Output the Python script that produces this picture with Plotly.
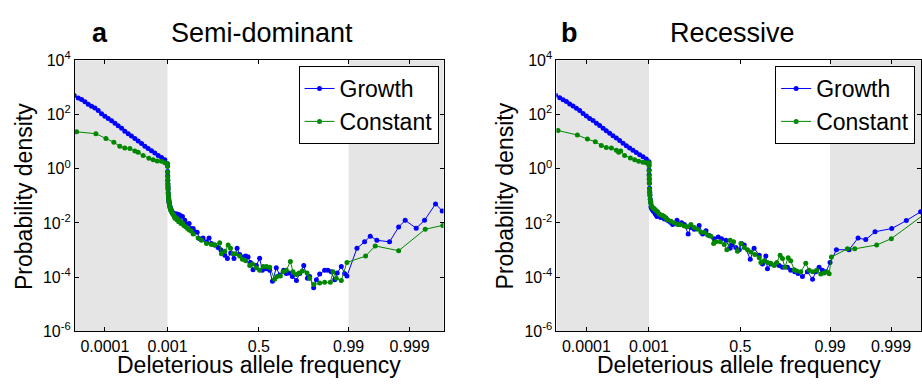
import numpy as np
import plotly.graph_objects as go

# ---------------- tick labels ----------------
x_tick_values = [0.0001, 0.001, 0.5, 0.99, 0.999]
x_tick_labels = ["0.0001", "0.001", "0.5", "0.99", "0.999"]
y_tick_values = [1e-6, 1e-4, 1e-2, 1e0, 1e2, 1e4]
y_tick_labels = ["10<sup>-6</sup>", "10<sup>-4</sup>", "10<sup>-2</sup>",
                 "10<sup>0</sup>", "10<sup>2</sup>", "10<sup>4</sup>"]

# ---------------- panel a : Semi-dominant ----------------
a_growth_freq = [
    3.24e-5, 3.76e-5, 4.25e-5, 4.80e-5, 5.42e-5, 6.12e-5, 6.93e-5, 7.83e-5, 8.85e-5, 1.0e-4,
    1.13e-4, 1.28e-4, 1.45e-4, 1.63e-4, 1.85e-4, 2.08e-4, 2.36e-4, 2.66e-4, 3.01e-4, 3.40e-4,
    3.85e-4, 4.35e-4, 4.91e-4, 5.55e-4, 6.27e-4, 7.10e-4, 8.02e-4, 9.06e-4, 1.0e-3,
    0.0012, 0.0016, 0.002, 0.0025, 0.003, 0.0035, 0.004, 0.005, 0.006, 0.007, 0.008, 0.009,
    0.010, 0.012, 0.014, 0.016, 0.018, 0.020, 0.023, 0.026, 0.030, 0.034, 0.038, 0.042,
    0.047, 0.052, 0.057, 0.062,
    0.068, 0.0827, 0.0954, 0.1045, 0.119, 0.128, 0.141, 0.150, 0.163, 0.177, 0.195, 0.214,
    0.228, 0.241, 0.259, 0.277, 0.292, 0.314, 0.328, 0.346, 0.364, 0.381, 0.395, 0.414,
    0.428, 0.441, 0.454, 0.468, 0.486, 0.504, 0.519, 0.541, 0.559, 0.574, 0.595, 0.614,
    0.635, 0.650, 0.664, 0.683, 0.705, 0.723, 0.745, 0.765, 0.777, 0.799, 0.814, 0.832,
    0.859, 0.877, 0.895, 0.914, 0.928, 0.950, 0.968, 0.981,
    0.99270, 0.99453, 0.99558, 0.99656, 0.99787, 0.99849, 0.99882, 0.999222, 0.999432,
    0.999625, 0.999709]
a_growth_dens = [
    507, 409, 357, 296, 239, 203, 173, 140, 107, 86.1,
    71.3, 59.0, 47.6, 38.5, 31.0, 24.3, 19.6, 16.3, 13.1, 10.6,
    8.53, 6.70, 5.56, 4.60, 3.81, 3.08, 2.62, 2.17, 1.53,
    1.3, 0.8, 0.55, 0.38, 0.28, 0.22, 0.18, 0.13, 0.10, 0.085, 0.072, 0.063,
    0.056, 0.047, 0.041, 0.037, 0.034, 0.031, 0.028, 0.026, 0.024, 0.022, 0.021, 0.019,
    0.022, 0.018, 0.021, 0.016,
    0.0197, 0.0173, 0.0125, 0.00881, 0.00955, 0.00621, 0.00621, 0.00475, 0.0045, 0.00263,
    0.00277, 0.00201, 0.00277, 0.00176, 0.00154, 0.00124, 0.00103, 0.00065, 0.000484,
    0.000785, 0.000484, 0.00117, 0.000686, 0.000553, 0.0006, 0.000553, 0.000351, 0.000189,
    0.000268, 0.000497, 0.000179, 0.000205, 0.000179, 0.00007, 0.000222, 0.00012, 0.000179,
    0.000137, 0.000144, 0.000105, 0.0000759, 0.000137, 0.000268, 0.0000914, 0.000105,
    0.0000409, 0.00008, 0.00013, 0.000179, 0.000179, 0.000157, 0.00008, 0.000144, 0.000247,
    0.000137, 0.00011,
    0.00117, 0.00201, 0.00326, 0.0023, 0.00201, 0.0071, 0.0125, 0.00638, 0.0125, 0.0505, 0.0279]

a_constant_freq = [
    3.53e-5, 7.18e-5, 1.04e-4, 1.39e-4, 1.73e-4, 2.08e-4, 2.51e-4, 3.01e-4, 3.40e-4, 4.08e-4,
    5.04e-4, 5.90e-4, 6.84e-4, 8.02e-4, 9.06e-4, 1.0e-3,
    0.0012, 0.0016, 0.002, 0.0025, 0.003, 0.0035, 0.004, 0.005, 0.006, 0.007, 0.008, 0.009,
    0.010, 0.012, 0.014, 0.016, 0.018, 0.020, 0.023, 0.026, 0.030, 0.034, 0.038, 0.042,
    0.047, 0.052, 0.057, 0.062, 0.068, 0.075, 0.082, 0.090, 0.100, 0.110, 0.120, 0.130,
    0.141, 0.168, 0.186, 0.214, 0.241, 0.259, 0.286, 0.295, 0.314, 0.332, 0.345, 0.359,
    0.374, 0.395, 0.410, 0.428, 0.450, 0.465, 0.486, 0.504, 0.523, 0.541, 0.559, 0.586,
    0.599, 0.617, 0.632, 0.650, 0.672, 0.686, 0.705, 0.719, 0.737, 0.763, 0.777, 0.799,
    0.832, 0.859, 0.890, 0.905, 0.923, 0.950, 0.981,
    0.99474, 0.99634, 0.99849, 0.999447, 0.999716]
a_constant_dens = [
    23.1, 19.6, 13.1, 9.51, 6.70, 5.86, 5.56, 4.48, 4.03, 3.08,
    2.42, 2.17, 1.95, 1.90, 1.66, 1.53,
    1.2, 0.75, 0.5, 0.36, 0.27, 0.21, 0.17, 0.125, 0.098, 0.082, 0.07, 0.06,
    0.054, 0.045, 0.039, 0.035, 0.031, 0.029, 0.026, 0.024, 0.021, 0.02, 0.017, 0.015,
    0.016, 0.013, 0.014, 0.011, 0.012, 0.0095, 0.010, 0.0080, 0.0072, 0.0063, 0.0055, 0.0050,
    0.00394, 0.00277, 0.0023, 0.00176, 0.00162, 0.00154, 0.00185, 0.000724, 0.000897,
    0.00154, 0.00117, 0.000724, 0.000724, 0.0006, 0.000458, 0.000401, 0.000268, 0.000306,
    0.000222, 0.000179, 0.000247, 0.000247, 0.000234, 0.0000844, 0.000105, 0.00011,
    0.000157, 0.000179, 0.00038, 0.000157, 0.000126, 0.000144, 0.00017, 0.000144,
    0.0000914, 0.0000535, 0.0000611, 0.0000646, 0.0000646, 0.000157, 0.0000914,
    0.0000759, 0.000351,
    0.0006, 0.00142, 0.000946, 0.00589, 0.00813]

# ---------------- panel b : Recessive ----------------
b_growth_freq = [
    3.24e-5, 3.76e-5, 4.25e-5, 4.80e-5, 5.42e-5, 6.12e-5, 6.93e-5, 7.83e-5, 8.85e-5, 1.0e-4,
    1.13e-4, 1.28e-4, 1.45e-4, 1.63e-4, 1.85e-4, 2.08e-4, 2.36e-4, 2.66e-4, 3.01e-4, 3.40e-4,
    3.85e-4, 4.35e-4, 4.91e-4, 5.55e-4, 6.27e-4, 7.10e-4, 8.02e-4, 9.06e-4, 1.0e-3,
    0.0012, 0.0016, 0.002, 0.0025, 0.003, 0.004, 0.005, 0.006, 0.008, 0.010, 0.0117, 0.015,
    0.020, 0.025, 0.0299, 0.035, 0.040, 0.0445, 0.050, 0.0572, 0.065, 0.0754, 0.085, 0.0936,
    0.102, 0.1117, 0.120, 0.130, 0.140, 0.154, 0.166, 0.179, 0.194, 0.215, 0.230, 0.248,
    0.275, 0.294, 0.312, 0.330, 0.357, 0.379, 0.397, 0.421, 0.444, 0.452, 0.475, 0.494,
    0.506, 0.521, 0.554, 0.575, 0.603, 0.621, 0.639, 0.648, 0.666, 0.694, 0.712, 0.730,
    0.757, 0.775, 0.797, 0.815, 0.839, 0.866, 0.894, 0.912, 0.930, 0.948, 0.966, 0.9895,
    0.99213, 0.99511, 0.99652, 0.9974, 0.99817, 0.999025, 0.999439, 0.999673, 0.99972]
b_growth_dens = [
    520, 420, 350, 300, 245, 205, 170, 142, 110, 88,
    72, 60, 48, 39, 31.5, 25, 20.2, 16.6, 13.5, 11.0,
    8.8, 7.0, 5.8, 4.8, 3.95, 3.3, 2.75, 2.3, 1.8,
    1.4, 0.9, 0.6, 0.42, 0.3, 0.19, 0.14, 0.11, 0.075, 0.058, 0.0386, 0.034,
    0.030, 0.027, 0.0258, 0.022, 0.020, 0.0173, 0.021, 0.0197, 0.016, 0.0173, 0.014, 0.0151,
    0.0125, 0.0115, 0.0105, 0.00881, 0.0095, 0.0125, 0.00881, 0.0101, 0.00881, 0.00394,
    0.00673, 0.00589, 0.00813, 0.00394, 0.00515, 0.00344, 0.00263, 0.00301, 0.00263, 0.0023,
    0.00117, 0.00154, 0.00124, 0.00103, 0.00176, 0.00154, 0.000458, 0.00117, 0.00065,
    0.000306, 0.0006, 0.000205, 0.000306, 0.000306, 0.000268, 0.000234, 0.000234, 0.000179,
    0.000157, 0.000137, 0.000105, 0.000157, 0.0000844, 0.000157, 0.000234, 0.000179,
    0.000157, 0.000351,
    0.00103, 0.00103, 0.00277, 0.00243, 0.00474, 0.00621, 0.0122, 0.0258, 0.032]

b_constant_freq = [
    3.53e-5, 7.18e-5, 1.04e-4, 1.39e-4, 1.73e-4, 2.08e-4, 2.51e-4, 3.01e-4, 3.28e-4, 3.53e-4,
    4.08e-4, 5.04e-4, 5.90e-4, 6.84e-4, 8.02e-4, 9.06e-4, 1.0e-3,
    0.0012, 0.0016, 0.002, 0.0025, 0.003, 0.004, 0.005, 0.006, 0.008, 0.010, 0.0117, 0.015,
    0.020, 0.025, 0.0299, 0.035, 0.040, 0.0481, 0.055, 0.0663, 0.075, 0.0845, 0.093, 0.1026,
    0.1208, 0.139, 0.157, 0.175, 0.194, 0.212, 0.230, 0.248, 0.266, 0.285, 0.303, 0.321,
    0.339, 0.354, 0.366, 0.390, 0.412, 0.426, 0.444, 0.463, 0.484, 0.503, 0.521, 0.539,
    0.557, 0.579, 0.603, 0.612, 0.630, 0.648, 0.666, 0.685, 0.699, 0.717, 0.730, 0.743,
    0.761, 0.775, 0.794, 0.808, 0.830, 0.857, 0.875, 0.894, 0.917, 0.939, 0.957, 0.972, 0.985,
    0.99049, 0.9948, 0.99606, 0.99828, 0.999011, 0.99972]
b_constant_dens = [
    25.7, 17.6, 12.4, 10.0, 7.26, 6.03, 5.86, 4.85, 4.03, 4.48,
    3.08, 2.48, 2.17, 1.90, 1.75, 1.66, 1.66,
    1.3, 0.85, 0.55, 0.4, 0.29, 0.18, 0.13, 0.1, 0.072, 0.06, 0.0505, 0.042,
    0.037, 0.035, 0.0337, 0.030, 0.028, 0.0258, 0.022, 0.0197, 0.019, 0.0173, 0.015, 0.0132,
    0.0115, 0.0101, 0.00881, 0.00881, 0.00771, 0.0073, 0.00881, 0.00673, 0.00589, 0.0045,
    0.0045, 0.00363, 0.00326, 0.00176, 0.00201, 0.00201, 0.00162, 0.00103, 0.0023, 0.00201,
    0.000897, 0.00176, 0.00124, 0.00103, 0.000851, 0.000686, 0.000525, 0.000351, 0.000401,
    0.000351, 0.000324, 0.000268, 0.000351, 0.00065, 0.000484, 0.000234, 0.000525, 0.000401,
    0.000189, 0.00017, 0.000157, 0.000324, 0.000179, 0.000157, 0.000179, 0.00013, 0.000144,
    0.000157, 0.000135,
    0.000555, 0.00111, 0.00111, 0.00154, 0.00263, 0.0214]


# ---------------- composite frequency scale ----------------
# left block: log10(x) for x<=0.001, middle block: linear 0.001..0.99,
# right block: -log10(1-x) for x>0.99  (axis units)
DEC_L, MID_W, DEC_R = 62.7, 181.3, 61.0


def freq_scale(x):
    x = np.asarray(x, dtype=float)
    left = (np.log10(np.clip(x, 1e-12, None)) + 3.0) * DEC_L
    mid = (x - 0.001) / 0.989 * MID_W
    right = MID_W + (-2.0 - np.log10(np.clip(1.0 - x, 1e-12, None))) * DEC_R
    return np.where(x <= 0.001, left, np.where(x <= 0.99, mid, right))


W, H = 922, 390
FONT = "Liberation Sans, Arial, Helvetica, sans-serif"
BLUE = "rgb(0,0,255)"
GREEN = "rgb(0,135,0)"
GREY = "rgb(229,229,229)"

panels = [
    dict(xa="x", ya="y", leg="legend", px0=75, px1=444, zero=167.7,
         g=(a_growth_freq, a_growth_dens), c=(a_constant_freq, a_constant_dens)),
    dict(xa="x2", ya="y2", leg="legend2", px0=557, px1=922, zero=649.7,
         g=(b_growth_freq, b_growth_dens), c=(b_constant_freq, b_constant_dens)),
]

fig = go.Figure()
for p in panels:
    for name, (fx, dy), col in (("Growth", p["g"], BLUE), ("Constant", p["c"], GREEN)):
        fig.add_trace(go.Scatter(
            x=freq_scale(fx), y=dy, mode="lines+markers", name=name,
            line=dict(color=col, width=1), marker=dict(color=col, size=5),
            xaxis=p["xa"], yaxis=p["ya"], legend=p["leg"], showlegend=True))

ytop, ybot = 52, 337.7
ydom = [1 - ybot / H, 1 - ytop / H]

axis_common = dict(showline=True, linecolor="black", linewidth=1, mirror="ticks",
                   ticks="inside", ticklen=4, tickcolor="black", tickwidth=1,
                   showgrid=False, zeroline=False,
                   tickfont=dict(family=FONT, size=16, color="black"))

layout = dict(width=W, height=H, margin=dict(l=0, r=0, t=0, b=0),
              paper_bgcolor="white", plot_bgcolor="white",
              font=dict(family=FONT, color="black"), shapes=[], annotations=[])

for i, p in enumerate(panels):
    sfx = "" if i == 0 else "2"
    lo = p["px0"] - p["zero"]
    hi = p["px1"] - p["zero"]
    layout["xaxis" + sfx] = dict(
        domain=[p["px0"] / W, p["px1"] / W], range=[lo, hi], anchor="y" + sfx,
        tickvals=list(freq_scale(x_tick_values)), ticktext=x_tick_labels, **axis_common)
    layout["yaxis" + sfx] = dict(
        domain=ydom, type="log", range=[-6, 4], anchor="x" + sfx,
        tickvals=y_tick_values, ticktext=y_tick_labels, **axis_common)
    # shaded (log-scaled) blocks
    for x0, x1 in ((lo, float(freq_scale([0.001])[0])), (float(freq_scale([0.99])[0]), hi + 10)):
        layout["shapes"].append(dict(type="rect", xref="x" + sfx, yref="y" + sfx + " domain",
                                     x0=x0, x1=x1, y0=0, y1=1, fillcolor=GREY,
                                     line=dict(width=0), layer="below"))

leg_common = dict(bgcolor="white", bordercolor="black", borderwidth=1,
                  font=dict(family=FONT, size=23, color="black"),
                  yanchor="top", y=1 - 58 / H, tracegroupgap=0)
layout["legend"] = dict(x=439 / W, xanchor="right", **leg_common)
layout["legend2"] = dict(x=776 / W, xanchor="left", **leg_common)


def ann(text, px, py, size, angle=0):
    return dict(text=text, x=px / W, y=1 - py / H, xref="paper", yref="paper",
                showarrow=False, xanchor="center", yanchor="middle", textangle=angle,
                font=dict(family=FONT, size=size, color="black"))


layout["annotations"] += [
    ann("<b>a</b>", 100.5, 23, 27),
    ann("Semi-dominant", 262.5, 23, 27),
    ann("<b>b</b>", 570, 23, 27),
    ann("Recessive", 733.5, 23, 27),
    ann("Probability density", 24, 195, 23, -90),
    ann("Probability density", 506, 195, 23, -90),
    ann("Deleterious allele frequency", 259.5, 373, 23),
    ann("Deleterious allele frequency", 740, 373, 23),
]

fig.update_layout(**layout)
fig.write_html("out.html")
